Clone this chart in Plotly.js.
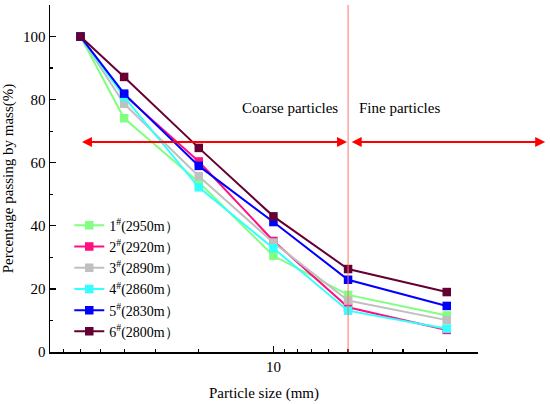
<!DOCTYPE html>
<html>
<head>
<meta charset="utf-8">
<script src="https://cdn.plot.ly/plotly-3.0.1.min.js"></script>
<style>html,body{margin:0;padding:0;background:#fff;}#chart{width:550px;height:404px;}</style>
</head>
<body>
<div id="chart"></div>
<script>
// Particle sizes (mm)
var sizes = [60, 40, 20, 10, 5, 2];
// Percentage passing by mass (%)
var s1 = [100, 74.1, 53.8, 30.5, 18.1, 11.6];
var s2 = [100, 81.5, 60.4, 35.2, 14.2, 7.0];
var s3 = [100, 78.7, 55.7, 34.7, 16.3, 10.1];
var s4 = [100, 80.9, 52.2, 32.9, 13.1, 7.4];
var s5 = [100, 81.9, 59.0, 41.2, 22.9, 14.6];
var s6 = [100, 87.2, 64.7, 43.0, 26.3, 19.0];
var names = ["1<sup>#</sup>(2950m）", "2<sup>#</sup>(2920m）", "3<sup>#</sup>(2890m）",
             "4<sup>#</sup>(2860m）", "5<sup>#</sup>(2830m）", "6<sup>#</sup>(2800m）"];
var colors = ["#80ff80", "#ff0f7f", "#c0c0c0", "#33ffff", "#0000ff", "#660033"];
var majorTicks = [10];
var majorLabels = ["10"];
var minorTicks = [2, 3, 4, 5, 6, 7, 8, 9, 20, 30, 40, 50, 60, 70];
var boundary = 5;      // coarse / fine boundary (mm)
var arrowLevel = 66.6; // height of the arrows (%)
var arrowStart = 60;   // left end of coarse arrow (mm)

var series = [s1, s2, s3, s4, s5, s6];
var font = "'Liberation Serif', 'Times New Roman', Times, serif";
var traces = series.map(function (s, i) {
  return {
    x: sizes, y: s, name: names[i], type: "scatter", mode: "lines+markers",
    line: {color: colors[i], width: 2},
    marker: {symbol: "square", size: 8.5, color: colors[i]}
  };
});

var layout = {
  width: 550, height: 404,
  margin: {l: 50, r: 72, t: 5, b: 52},
  paper_bgcolor: "#fff", plot_bgcolor: "#fff",
  font: {family: font, size: 15, color: "#000"},
  showlegend: true,
  legend: {x: 0.045, y: 0.41, xanchor: "left", yanchor: "top",
           bgcolor: "rgba(0,0,0,0)", font: {family: font, size: 14}, tracegroupgap: 0},
  xaxis: {
    type: "log", range: [1.901, 0.175], autorange: false,
    showline: true, linecolor: "#000", linewidth: 1.5, showgrid: false, zeroline: false,
    tickmode: "array", tickvals: majorTicks, ticktext: majorLabels,
    ticks: "inside", ticklen: 6, tickwidth: 1.2, tickcolor: "#000",
    minor: {tickmode: "array", tickvals: minorTicks, ticks: "inside", ticklen: 3, tickwidth: 1.2, tickcolor: "#000", showgrid: false},
    tickfont: {family: font, size: 15},
    title: {text: "Particle size (mm)", font: {family: font, size: 15}, standoff: 14}
  },
  yaxis: {
    range: [0, 110], autorange: false,
    showline: true, linecolor: "#000", linewidth: 1.5, showgrid: false, zeroline: false,
    tickmode: "linear", tick0: 0, dtick: 20,
    ticks: "inside", ticklen: 6, tickwidth: 1.2, tickcolor: "#000",
    minor: {tickmode: "linear", tick0: 10, dtick: 20, ticks: "inside", ticklen: 3, tickwidth: 1.2, tickcolor: "#000", showgrid: false},
    tickfont: {family: font, size: 15},
    title: {text: "Percentage passing by mass(%)", font: {family: font, size: 15}, standoff: 6}
  },
  shapes: [{
    type: "line", xref: "x", yref: "paper", x0: boundary, x1: boundary, y0: 0, y1: 1,
    line: {color: "#ff7070", width: 1}
  }],
  annotations: [
    {text: "Coarse particles", xref: "x", yref: "y", x: Math.log10(8.6), y: 77.5,
     showarrow: false, font: {family: font, size: 15}},
    {text: "Fine particles", xref: "x", yref: "y", x: Math.log10(3.1), y: 77.5,
     showarrow: false, font: {family: font, size: 15}},
    {text: "", xref: "x", yref: "y", x: Math.log10(boundary) + 0.004, y: arrowLevel,
     axref: "x", ayref: "y", ax: Math.log10(arrowStart), ay: arrowLevel,
     showarrow: true, arrowhead: 2, startarrowhead: 2, arrowside: "end+start",
     arrowsize: 1, startarrowsize: 1, arrowwidth: 2, arrowcolor: "#ff0000"},
    {text: "", xref: "paper", yref: "y", x: 1.157, y: arrowLevel,
     axref: "pixel", ayref: "pixel", ax: -195, ay: 0,
     showarrow: true, arrowhead: 2, startarrowhead: 2, arrowside: "end+start",
     arrowsize: 1, startarrowsize: 1, arrowwidth: 2, arrowcolor: "#ff0000"}
  ]
};

Plotly.newPlot("chart", traces, layout, {displayModeBar: false, staticPlot: true});
</script>
</body>
</html>
